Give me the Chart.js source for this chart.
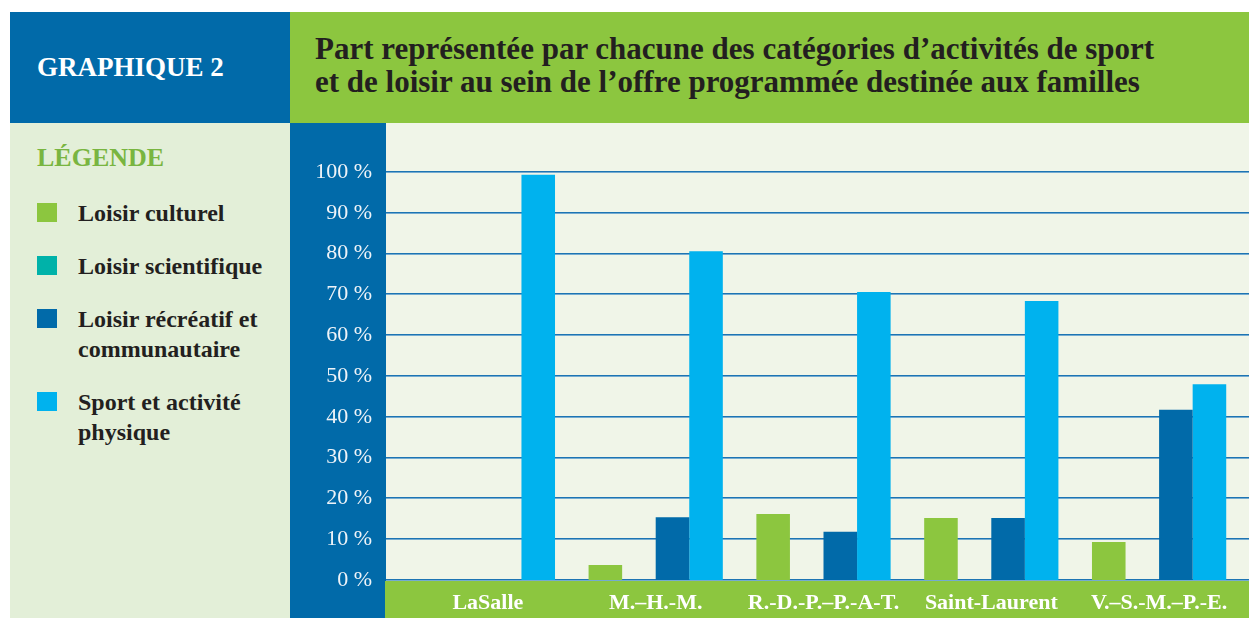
<!DOCTYPE html>
<html lang="fr">
<head>
<meta charset="utf-8">
<script src="https://cdn.jsdelivr.net/npm/chart.js@4/dist/chart.umd.min.js"></script>
<style>
  body { margin: 0; background: #fff; width: 1249px; height: 618px; overflow: hidden; position: relative; font-family: "Liberation Serif", serif; }
  .box { position: absolute; }
  #tag { left: 10px; top: 12px; width: 280px; height: 111px; background: #016aa9; color: #fff; font-weight: bold; font-size: 27px; }
  #tag span { position: absolute; left: 27px; top: 55px; line-height: 32px; margin-top: -16px; }
  #head { left: 290px; top: 12px; width: 959px; height: 111px; background: #8cc63f; }
  #head div { position: absolute; left: 25px; top: 20px; color: #231f20; font-weight: bold; font-size: 31px; line-height: 33px; white-space: nowrap; }
  #legendPanel { left: 10px; top: 123px; width: 280px; height: 495px; background: #e3efd8; }
  #legendTitle { position: absolute; left: 27px; top: 20px; color: #79b540; font-weight: bold; font-size: 26px; line-height: 30px; }
  #legend { position: absolute; left: 27px; top: 75px; margin: 0; padding: 0; list-style: none; }
  #legend li { position: relative; padding-left: 41px; margin-bottom: 23px; color: #231f20; font-weight: bold; font-size: 24px; line-height: 30px; width: 215px; }
  #legend li i { position: absolute; left: 0; top: 5px; width: 20px; height: 19px; }
  #axisCol { left: 290px; top: 123px; width: 96px; height: 495px; background: #016aa9; }
  #plotBg { left: 386px; top: 123px; width: 863px; height: 458px; background: #f0f5e8; }
  #band { left: 385px; top: 581px; width: 864px; height: 37px; background: #8cc63f; }
  #wrap { left: 290px; top: 123px; width: 959px; height: 495px; }
</style>
</head>
<body>
<div class="box" id="tag"><span>GRAPHIQUE 2</span></div>
<div class="box" id="head"><div>Part représentée par chacune des catégories d’activités de sport<br>et de loisir au sein de l’offre programmée destinée aux familles</div></div>
<div class="box" id="legendPanel">
  <div id="legendTitle">LÉGENDE</div>
  <ul id="legend"></ul>
</div>
<div class="box" id="axisCol"></div>
<div class="box" id="plotBg"></div>
<div class="box" id="band"></div>
<div class="box" id="wrap"><canvas id="chart" width="959" height="495"></canvas></div>
<script>
const districts = ["LaSalle", "M.–H.-M.", "R.-D.-P.–P.-A-T.", "Saint-Laurent", "V.–S.-M.–P.-E."];
const seriesNames = ["Loisir culturel", "Loisir scientifique", "Loisir récréatif et communautaire", "Sport et activité physique"];
const seriesColors = ["#8cc63f", "#00b2a9", "#016aa9", "#00b2ee"];

const culturel = [0, 3.7, 16.2, 15.2, 9.3];
const scientifique = [0, 0, 0, 0, 0];
const recreatif = [0, 15.4, 11.8, 15.2, 41.7];
const sport = [99.3, 80.6, 70.6, 68.4, 48.0];

const yTicks = [0, 10, 20, 30, 40, 50, 60, 70, 80, 90, 100];

// légende à gauche
const legendEl = document.getElementById("legend");
seriesNames.forEach((name, i) => {
    const li = document.createElement("li");
    li.innerHTML = `<i style="background:${seriesColors[i]}"></i>${name}`;
    legendEl.appendChild(li);
});

// lignes de grille qui débordent sur toute la largeur du fond
const gridLines = {
    id: "gridLines",
    beforeDatasetsDraw(chart) {
        const c = chart.ctx;
        const y = chart.scales.y;
        c.save();
        yTicks.forEach((v) => {
            const py = Math.round(y.getPixelForValue(v));
            c.fillStyle = "#1d74b3";
            c.fillRect(96, py - 1, chart.width - 96, 1);
            c.fillStyle = "#74abd0";
            c.fillRect(96, py, chart.width - 96, 1);
        });
        c.restore();
    },
};

const allData = [culturel, scientifique, recreatif, sport];

new Chart(document.getElementById("chart").getContext("2d"), {
    type: "bar",
    data: {
        labels: districts,
        datasets: seriesNames.map((name, i) => ({
            label: name,
            data: allData[i],
            backgroundColor: seriesColors[i],
            borderWidth: 0,
            categoryPercentage: 0.8,
            barPercentage: 1.0,
        })),
    },
    options: {
        responsive: false,
        animation: false,
        layout: { padding: { top: 49, right: 6, left: 0, bottom: 0 } },
        plugins: { legend: { display: false }, tooltip: { enabled: false } },
        scales: {
            x: {
                grid: { display: false, drawTicks: false },
                border: { display: false },
                ticks: {
                    color: "#ffffff",
                    font: { family: "Liberation Serif", size: 22, weight: "bold" },
                    padding: 10,
                    maxRotation: 0,
                    autoSkip: false,
                },
                afterFit: (s) => { s.height = 38; s.paddingLeft = 0; s.paddingRight = 0; },
            },
            y: {
                min: 0,
                max: 100,
                grid: { display: false, drawTicks: false },
                border: { display: false },
                afterBuildTicks: (s) => { s.ticks = yTicks.map((v) => ({ value: v })); },
                ticks: {
                    color: "#eef3f8",
                    font: { family: "Liberation Serif", size: 22 },
                    padding: 32,
                    callback: (v) => v + "\u00a0%",
                },
                afterFit: (s) => { s.width = 114; s.paddingTop = 0; s.paddingBottom = 0; },
            },
        },
    },
    plugins: [gridLines],
});
</script>
</body>
</html>
